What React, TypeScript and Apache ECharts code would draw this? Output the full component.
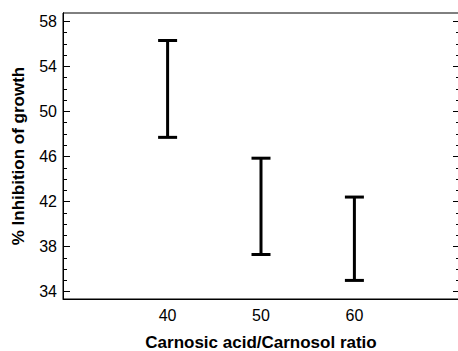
import React, { useEffect, useRef } from "react";
import * as echarts from "echarts";

const ratios = [40, 50, 60];
const lowValues = [47.7, 37.3, 35.0];
const highValues = [56.3, 45.85, 42.4];
const majorTicks = [34, 38, 42, 46, 50, 54, 58];
const minorTicks = [34, 35, 36, 37, 38, 39, 40, 41, 42, 43, 44, 45, 46, 47, 48, 49, 50, 51, 52, 53, 54, 55, 56, 57, 58];
const xTickLabels = [40, 50, 60];

const FONT = "'Liberation Sans', Arial, sans-serif";

export default function App() {
  const ref = useRef<HTMLDivElement>(null);
  useEffect(() => {
    if (!ref.current) return;
    const chart = echarts.init(ref.current, null, { renderer: "svg" });
    const yMin = 33.35;
    const yMax = 58.74;
    const baseY = (position: string, ticks: number[], len: number, labels: boolean, name?: string) => ({
      type: "value",
      position,
      min: yMin,
      max: yMax,
      name,
      nameLocation: "middle",
      nameGap: 36,
      nameRotate: 90,
      nameTextStyle: { fontFamily: FONT, fontWeight: "bold", fontSize: 17, color: "#000" },
      axisLine: { show: true, onZero: false, lineStyle: { color: "#000", width: 1 } },
      axisTick: { show: true, inside: true, length: len, customValues: ticks, lineStyle: { color: "#000", width: 1 } },
      axisLabel: labels
        ? { show: true, customValues: ticks, fontFamily: FONT, fontSize: 16, color: "#000", margin: 6 }
        : { show: false },
      splitLine: { show: false },
    });
    chart.setOption({
      animation: false,
      grid: {
        left: 63,
        top: 13,
        width: 396,
        height: 286,
        show: true,
        borderColor: "#000",
        borderWidth: 1,
        containLabel: false,
        outerBoundsMode: "none",
      },
      xAxis: {
        type: "value",
        min: 28.8,
        max: 71.2,
        name: "Carnosic acid/Carnosol ratio",
        nameLocation: "middle",
        nameGap: 35,
        nameTextStyle: { fontFamily: FONT, fontWeight: "bold", fontSize: 17, color: "#000" },
        axisLine: { show: true, onZero: false, lineStyle: { color: "#000", width: 1 } },
        axisTick: { show: false },
        axisLabel: { show: true, customValues: xTickLabels, fontFamily: FONT, fontSize: 16, color: "#000", margin: 8 },
        splitLine: { show: false },
      },
      yAxis: [
        baseY("left", majorTicks, 7, true, "% Inhibition of growth"),
        baseY("left", minorTicks, 4, false),
        baseY("right", majorTicks, 6, false),
        baseY("right", minorTicks, 3, false),
      ],
      series: [
        {
          type: "custom",
          yAxisIndex: 0,
          data: ratios.map((r, i) => [r, lowValues[i], highValues[i]]),
          renderItem: (params: any, api: any) => {
            const x = api.value(0);
            const lo = api.coord([x, api.value(1)]);
            const hi = api.coord([x, api.value(2)]);
            const hw = 9.5;
            const style = { stroke: "#000", lineWidth: 3 };
            return {
              type: "group",
              children: [
                { type: "line", shape: { x1: lo[0], y1: lo[1], x2: hi[0], y2: hi[1] }, style },
                { type: "line", shape: { x1: lo[0] - hw, y1: lo[1], x2: lo[0] + hw, y2: lo[1] }, style },
                { type: "line", shape: { x1: hi[0] - hw, y1: hi[1], x2: hi[0] + hw, y2: hi[1] }, style },
              ],
            };
          },
        },
      ],
    });
    return () => chart.dispose();
  }, []);
  return (
    <div
      ref={ref}
      style={{ position: "fixed", left: 0, top: 0, width: 458, height: 351, background: "#fff" }}
    />
  );
}
